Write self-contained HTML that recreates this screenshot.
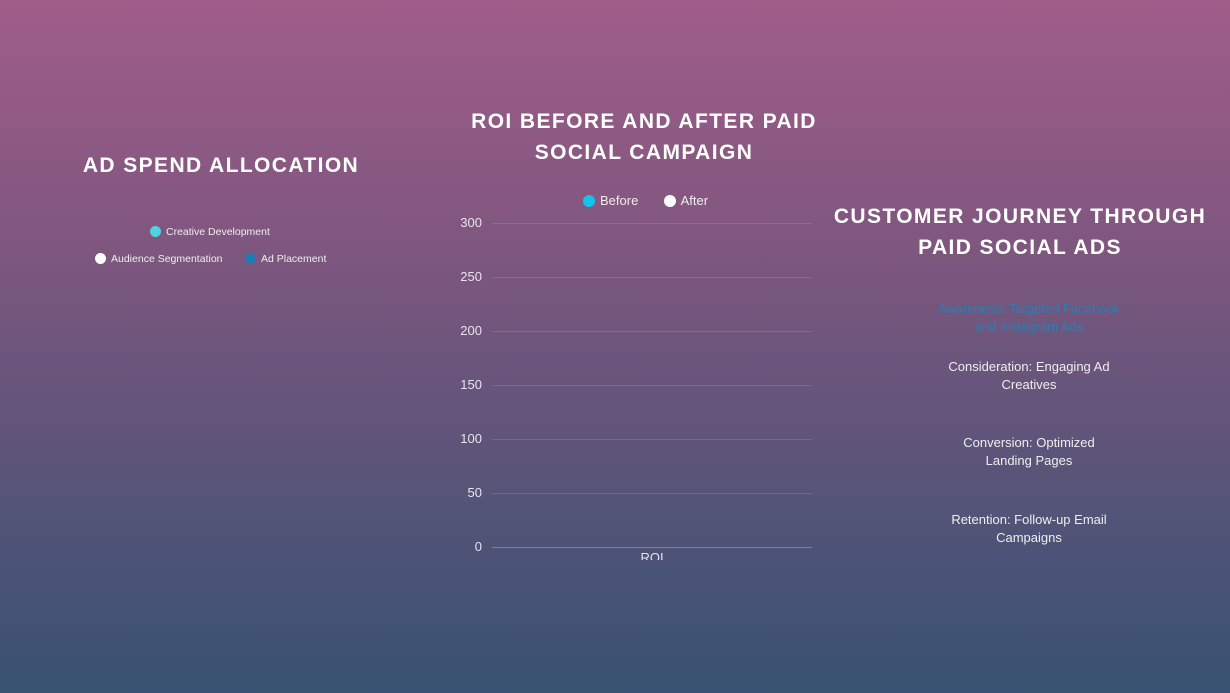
<!DOCTYPE html>
<html><head><meta charset="utf-8"><style>
html,body{margin:0;padding:0}
body{width:1230px;height:693px;overflow:hidden;position:relative;font-family:"Liberation Sans",sans-serif;
background:linear-gradient(to bottom,#a05d8a 0%,#81577f 33%,#5c5479 66%,#375272 100%);}
.t{position:absolute;color:#fff;font-weight:bold;font-size:21px;letter-spacing:1.4px;text-align:center;line-height:31px;white-space:nowrap}
.s{position:absolute;font-size:13px;color:#eee;text-align:center;line-height:18px;white-space:nowrap}
.leg{position:absolute;font-size:10.5px;color:#eee;white-space:nowrap}
.dot{display:inline-block;width:11px;height:11px;border-radius:50%;vertical-align:-2px;margin-right:5px}
.yl{position:absolute;left:440px;width:42px;text-align:right;font-size:13px;color:#e8e4ee}
.g{position:absolute;left:492px;width:320px;height:1px;background:rgba(255,255,255,0.13)}
</style></head><body>
<div class="t" style="left:0;width:442px;top:150px">AD SPEND ALLOCATION</div>
<div class="leg" style="left:150px;top:226px"><span class="dot" style="background:#4fd3e3"></span>Creative Development</div>
<div class="leg" style="left:95px;top:253px"><span class="dot" style="background:#fff"></span>Audience Segmentation</div>
<div class="leg" style="left:245px;top:253px"><span class="dot" style="background:#1f7bb5"></span>Ad Placement</div>

<div class="t" style="left:444px;width:400px;top:106px">ROI BEFORE AND AFTER PAID<br>SOCIAL CAMPAIGN</div>
<div class="s" style="left:583px;top:192px;font-size:13px"><span class="dot" style="background:#11c4ec;width:12px;height:12px"></span>Before&nbsp;&nbsp;&nbsp;&nbsp;&nbsp;&nbsp;&nbsp;<span class="dot" style="background:#fff;width:12px;height:12px"></span>After</div>
<div class="yl" style="top:215px">300</div><div class="g" style="top:223px"></div>
<div class="yl" style="top:269px">250</div><div class="g" style="top:277px"></div>
<div class="yl" style="top:323px">200</div><div class="g" style="top:331px"></div>
<div class="yl" style="top:377px">150</div><div class="g" style="top:385px"></div>
<div class="yl" style="top:431px">100</div><div class="g" style="top:439px"></div>
<div class="yl" style="top:485px">50</div><div class="g" style="top:493px"></div>
<div class="yl" style="top:539px">0</div><div class="g" style="top:547px;background:rgba(255,255,255,0.25)"></div>
<div style="position:absolute;left:630px;top:550px;width:44px;height:10px;overflow:hidden;text-align:center;font-size:13px;color:#e8e4ee;line-height:15px">ROI</div>

<div class="t" style="left:820px;width:400px;top:201px">CUSTOMER JOURNEY THROUGH<br>PAID SOCIAL ADS</div>
<div class="s" style="left:879px;width:300px;top:300px;color:#2f7cb3">Awareness: Targeted Facebook<br>and Instagram Ads</div>
<div class="s" style="left:879px;width:300px;top:358px">Consideration: Engaging Ad<br>Creatives</div>
<div class="s" style="left:879px;width:300px;top:434px">Conversion: Optimized<br>Landing Pages</div>
<div class="s" style="left:879px;width:300px;top:511px">Retention: Follow-up Email<br>Campaigns</div>
</body></html>
